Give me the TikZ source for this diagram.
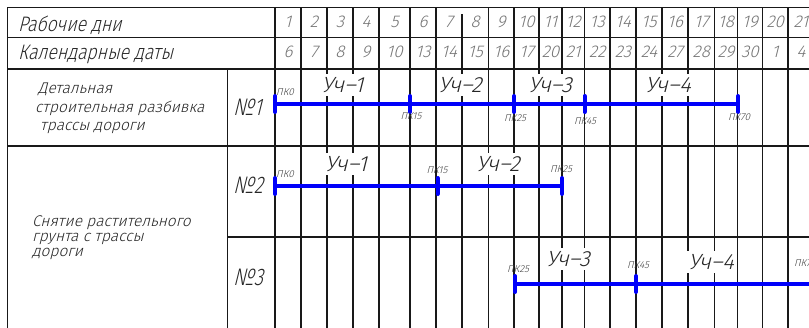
\documentclass[tikz,border=0pt]{standalone}
\usepackage{fontspec}
\newfontfamily\gost{Fira Sans Light}[FakeSlant=0.25]
\newfontfamily\gostnarrow{Fira Sans Light}[FakeSlant=0.25,FakeStretch=0.84]
\newfontfamily\gostnum{Fira Sans Light}[FakeSlant=0.25,FakeStretch=0.78]
\definecolor{planblue}{RGB}{0,0,250}
\definecolor{gridink}{RGB}{25,25,25}
\begin{document}
\begin{tikzpicture}[x=1pt,y=-1pt,
  grid/.style={line width=1.1pt, draw=gridink},
  frame/.style={line width=0.9pt, draw=gridink},
  bar/.style={line width=4pt, draw=planblue},
  pktick/.style={line width=4pt, draw=planblue, line cap=round},
  daynum/.style={font=\gost\fontsize{17}{17}\selectfont, text=black!55, inner sep=0pt},
  hdr/.style={font=\gostnarrow\fontsize{21}{21}\selectfont, text=black!85, anchor=base west, inner sep=0pt},
  task/.style={font=\gost\fontsize{15.5}{15.5}\selectfont, text=black!85, anchor=base west, inner sep=0pt},
  numlab/.style={font=\gostnum\fontsize{24}{24}\selectfont, text=black!85, anchor=base west, inner sep=0pt},
  sect/.style={font=\gost\fontsize{22}{22}\selectfont, text=black!85, fill=white, inner xsep=1pt, inner ysep=3pt},
  pk/.style={font=\gost\fontsize{10}{10}\selectfont, text=black!75, inner sep=0pt},
]
\useasboundingbox (0,0) rectangle (809,327);
\clip (0,0) rectangle (809,327);

% ---- table frame ----
\draw[frame] (7,7.5) -- (7,330);
\draw[frame] (227,69) -- (227,330);
\foreach \y in {7.5,37.5,69,146}
  \draw[grid] (7,\y) -- (815,\y);
\draw[grid] (227,237) -- (815,237);

% ---- day columns ----
\foreach \x in {275,301,327,353,379,410,436,488.5,514,539,562,584.5,610,636,662,688,714.5,737.5,762.5,788}
  \draw[grid] (\x,7.5) -- (\x,330);
\draw[grid] (462,14) -- (462,330);

% ---- working days and calendar dates ----
\foreach \d/\l/\r/\c in {1/275/301/6, 2/301/327/7, 3/327/353/8, 4/353/379/9,
    5/379/410/10, 6/410/436/13, 7/436/462/14, 8/462/488.5/15, 9/488.5/514/16,
    10/514/539/17, 11/539/562/20, 12/562/584.5/21, 13/584.5/610/22,
    14/610/636/23, 15/636/662/24, 16/662/688/27, 17/688/714.5/28,
    18/714.5/737.5/29, 19/737.5/762.5/30, 20/762.5/788/1, 21/788/814/4} {
  \node[daynum] (d\d) at ({(\l+\r)/2},21.5) {\d};
  \node[daynum] (c\d) at ({(\l+\r)/2},52) {\c};
}

% ---- left column texts ----
\node[hdr] (hwork) at (18,31) {Рабочие дни};
\node[hdr] (hcal) at (18,59.5) {Календарные даты};

\node[task] (t1a) at (38,93) {Детальная};
\node[task] (t1b) at (35,112) {строительная разбивка};
\node[task] (t1c) at (40,130) {трассы дороги};

\node[task] (t2a) at (32,226) {Снятие растительного};
\node[task] (t2b) at (32,241.5) {грунта с трассы};
\node[task] (t2c) at (32,256.5) {дороги};

\node[numlab] (n1) at (233,115) {№1};
\node[numlab] (n2) at (233,193) {№2};
\node[numlab] (n3) at (233,285) {№3};

% ---- section labels ----
\node[sect] (s11) at (342.5,85) {Уч–1};
\node[sect] (s12) at (460,85) {Уч–2};
\node[sect] (s13) at (550,85) {Уч–3};
\node[sect] (s14) at (668,85) {Уч–4};
\node[sect] (s21) at (346,164) {Уч–1};
\node[sect] (s22) at (498,164) {Уч–2};
\node[sect] (s33) at (568,259) {Уч–3};
\node[sect] (s34) at (711,262) {Уч–4};

% ---- picket points ----
\coordinate (a0) at (275,104);
\coordinate (a15) at (410,104);
\coordinate (a25) at (514,104);
\coordinate (a45) at (584.5,104);
\coordinate (a70) at (738,104);

\coordinate (b0) at (275,186);
\coordinate (b15) at (437.5,186);
\coordinate (b25) at (562,186);

\coordinate (c25) at (515,284);
\coordinate (c45) at (636,284);
\coordinate (c70) at (820,284);

% ---- schedule bars ----
\draw[bar] (a0) -- (a70);
\draw[bar] (b0) -- (b25);
\draw[bar] (c25) -- (c70);
\foreach \p in {a0,a15,a25,a45,a70,b0,b15,b25,c25,c45}
  \draw[pktick] ([yshift=-8pt]\p) -- ([yshift=8pt]\p);

% ---- picket labels ----
\node[pk, anchor=west] (la0) at (276,92.5) {ПК0};
\node[pk] (la15) at (411,116.5) {ПК15};
\node[pk] (la25) at (515,118.5) {ПК25};
\node[pk] (la45) at (585,121) {ПК45};
\node[pk] (la70) at (739,117.5) {ПК70};

\node[pk, anchor=west] (lb0) at (276,174) {ПК0};
\node[pk] (lb15) at (437,170.5) {ПК15};
\node[pk] (lb25) at (561,169.5) {ПК25};

\node[pk] (lc25) at (518,269) {ПК25};
\node[pk] (lc45) at (638,265) {ПК45};
\node[pk] (lc70) at (805,263.5) {ПК70};
\end{tikzpicture}
\end{document}
